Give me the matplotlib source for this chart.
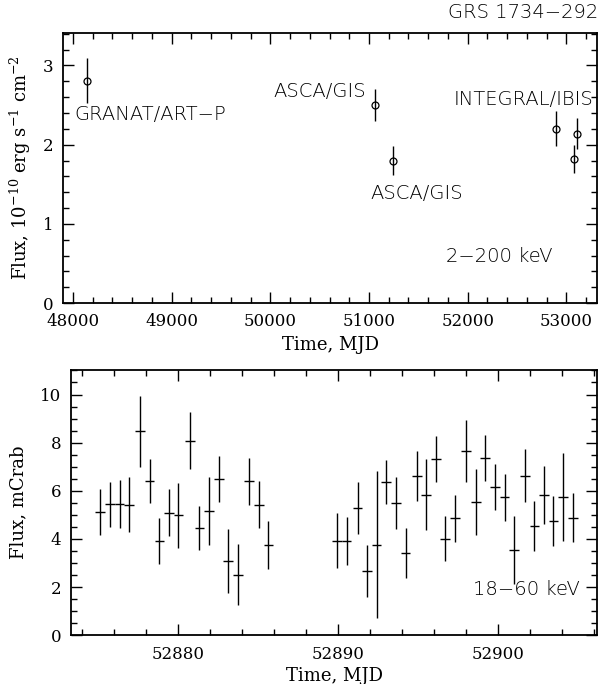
import numpy as np
import matplotlib
matplotlib.use("Agg")
import matplotlib.pyplot as plt
from matplotlib.ticker import MultipleLocator

# upper panel: 2-200 keV flux history
mjd_long = [48143, 51063, 51248, 52892, 53080, 53105]
flux_long = [2.81, 2.50, 1.80, 2.20, 1.82, 2.14]
err_long = [0.28, 0.20, 0.18, 0.22, 0.18, 0.20]

# lower panel: 18-60 keV INTEGRAL light curve
mjd_short = [52875.1, 52875.73, 52876.32, 52876.92, 52877.59, 52878.2, 52878.81,
             52879.41, 52880.0, 52880.71, 52881.32, 52881.92, 52882.53, 52883.12,
             52883.72, 52884.43, 52885.04, 52885.63,
             52889.92, 52890.52, 52891.21, 52891.81, 52892.4, 52893.0, 52893.6,
             52894.21, 52894.92, 52895.5, 52896.1, 52896.69, 52897.29, 52898.0,
             52898.6, 52899.19, 52899.79, 52900.4, 52901.0, 52901.69, 52902.27,
             52902.88, 52903.46, 52904.06, 52904.67]
flux_short = [5.11, 5.44, 5.46, 5.43, 8.48, 6.40, 3.93, 5.10, 4.99, 8.09, 4.45,
              5.15, 6.48, 3.10, 2.52, 6.39, 5.43, 3.75,
              3.93, 3.93, 5.28, 2.66, 3.77, 6.37, 5.50, 3.41, 6.61, 5.84, 7.31,
              4.02, 4.86, 7.65, 5.53, 7.38, 6.15, 5.73, 3.55, 6.63, 4.54, 5.84,
              4.75, 5.75, 4.88]
err_short = [0.96, 0.93, 0.99, 1.14, 1.47, 0.92, 0.96, 0.98, 1.35, 1.19, 0.91,
             1.41, 0.96, 1.33, 1.27, 0.96, 0.98, 1.00,
             1.15, 1.00, 1.08, 1.08, 3.04, 0.93, 1.07, 1.03, 1.04, 1.48, 0.96,
             0.92, 0.97, 1.30, 1.38, 0.96, 0.96, 0.99, 1.40, 1.10, 1.02, 1.20,
             1.05, 1.82, 1.02]
bin_half = 0.3

plt.rcParams['font.family'] = 'DejaVu Serif'
plt.rcParams['mathtext.fontset'] = 'dejavuserif'

fig = plt.figure(figsize=(6.03, 6.84), dpi=100)
ax1 = fig.add_axes([0.1045, 0.557, 0.8856, 0.3947])
ax2 = fig.add_axes([0.1182, 0.0712, 0.8723, 0.3879])

ax1.errorbar(mjd_long, flux_long, yerr=err_long, fmt='o', mfc='none', mec='black',
             ms=5, mew=0.9, ecolor='black', elinewidth=1.0, capsize=0)
ax1.set_xlim(47900, 53310)
ax1.set_ylim(0, 3.41)
ax1.xaxis.set_major_locator(MultipleLocator(1000))
ax1.xaxis.set_minor_locator(MultipleLocator(200))
ax1.yaxis.set_major_locator(MultipleLocator(1))
ax1.yaxis.set_minor_locator(MultipleLocator(0.2))
ax1.set_xlabel("Time, MJD", fontsize=13)
ax1.set_ylabel("Flux, 10$^{-10}$ erg s$^{-1}$ cm$^{-2}$", fontsize=13)
ax1.xaxis.set_label_coords(0.5, -0.122)
ax1.yaxis.set_label_coords(-0.056, 0.5)

sans = ['DejaVu Sans']
lbl = dict(fontsize=14, family=sans, weight='light', va='center')
ax1.text(48012, 2.38, "GRANAT/ART−P", ha='left', **lbl)
ax1.text(50966, 2.67, "ASCA/GIS", ha='right', **lbl)
ax1.text(51017, 1.38, "ASCA/GIS", ha='left', **lbl)
ax1.text(53270, 2.57, "INTEGRAL/IBIS", ha='right', **lbl)
ax1.text(52864, 0.59, "2−200 keV", ha='right', **lbl)

ax2.errorbar(mjd_short, flux_short, yerr=err_short, xerr=bin_half, fmt='none',
             ecolor='black', elinewidth=1.0, capsize=0)
ax2.set_xlim(52873.3, 52906.2)
ax2.set_ylim(0, 11.02)
ax2.xaxis.set_major_locator(MultipleLocator(10))
ax2.xaxis.set_minor_locator(MultipleLocator(2))
ax2.yaxis.set_major_locator(MultipleLocator(2))
ax2.yaxis.set_minor_locator(MultipleLocator(0.5))
ax2.set_xlabel("Time, MJD", fontsize=13)
ax2.set_ylabel("Flux, mCrab", fontsize=13)
ax2.xaxis.set_label_coords(0.5, -0.119)
ax2.yaxis.set_label_coords(-0.084, 0.5)
ax2.text(52905.1, 1.92, "18−60 keV", ha='right', **lbl)

for ax in (ax1, ax2):
    ax.ticklabel_format(useOffset=False, style='plain', axis='x')
    ax.tick_params(which='both', direction='in', top=True, right=True, labelsize=12)
    ax.tick_params(axis='x', pad=7.5)
    ax.tick_params(axis='y', pad=7)
    ax.tick_params(which='major', length=8, width=1.0)
    ax.tick_params(which='minor', length=4, width=1.0)
    for s in ax.spines.values():
        s.set_linewidth(1.3)

fig.text(0.992, 0.981, "GRS 1734−292", fontsize=14, family=sans, weight='light',
         ha='right', va='center')

fig.savefig("out.png", dpi=100)
